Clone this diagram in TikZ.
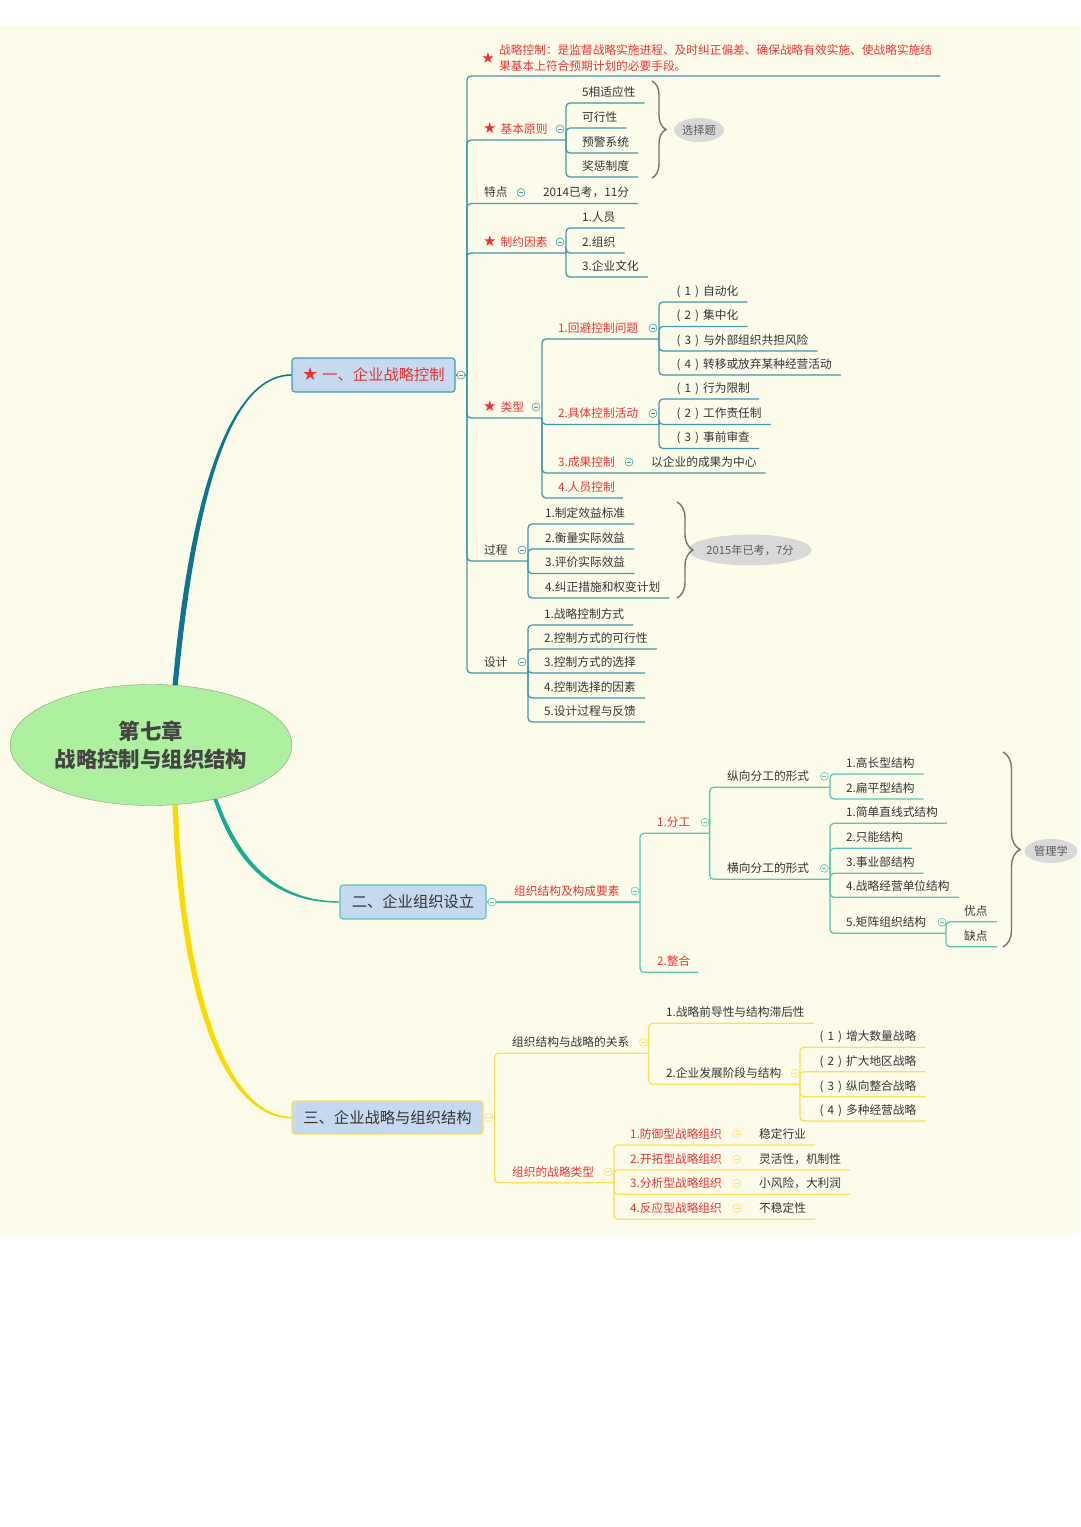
\documentclass[tikz,border=0pt]{standalone}
\usepackage{fontspec}
\setmainfont{Noto Sans CJK SC}
\newfontfamily\symfont{DejaVu Sans}
\usepackage{xcolor}
\usepackage{tikz}
\usetikzlibrary{shapes.geometric,decorations.pathreplacing,calc}

\definecolor{bgyel}{RGB}{253,252,235}
\definecolor{txt}{RGB}{51,51,51}
\definecolor{hotred}{RGB}{232,52,52}
\definecolor{lineA}{RGB}{66,152,172}
\definecolor{trunkA}{RGB}{14,116,144}
\definecolor{lineB}{RGB}{88,198,180}
\definecolor{trunkB}{RGB}{26,170,150}
\definecolor{lineC}{RGB}{250,224,90}
\definecolor{trunkC}{RGB}{250,218,0}
\definecolor{boxblue}{RGB}{197,217,241}
\definecolor{rootgreen}{RGB}{174,240,160}
\definecolor{rootedge}{RGB}{130,160,120}
\definecolor{roottxt}{RGB}{68,68,68}
\definecolor{tipgrey}{RGB}{217,217,217}
\definecolor{tiptxt}{RGB}{90,90,90}
\definecolor{bracegrey}{RGB}{115,115,115}

\newcommand{\hstar}{{\symfont\fontsize{15}{15}\selectfont ★}\hspace{4pt}}
\newcommand{\bstar}{{\symfont\fontsize{18}{18}\selectfont ★}\hspace{4pt}}
\newcommand{\pnum}[1]{\hspace{1.5pt}(\hspace{4pt}#1\hspace{4pt})\hspace{4pt}}

\tikzset{
  leaf/.style={anchor=south west,inner xsep=0pt,inner ysep=4.5pt,text height=9pt,text depth=2pt,
    font=\fontsize{11.7}{14}\selectfont,text=txt},
  hot/.style={leaf,text=hotred},
  defn/.style={anchor=south west,inner xsep=0pt,inner ysep=4.5pt,align=left,
    font=\fontsize{11.7}{16}\selectfont,text=hotred},
  fold/.style={circle,draw,fill=bgyel,line width=0.6pt,minimum size=8pt,inner sep=0pt,
    path picture={\draw[line width=0.5pt] ([xshift=-2pt]path picture bounding box.center)
      -- ([xshift=2pt]path picture bounding box.center);}},
  la/.style={draw=lineA,line width=1.3pt,rounded corners=4pt},
  lb/.style={draw=lineB,line width=1.3pt,rounded corners=4pt},
  lc/.style={draw=lineC,line width=1.3pt,rounded corners=4pt},
  topic/.style={rectangle,rounded corners=3pt,fill=boxblue,line width=1.1pt,minimum height=34pt,
    font=\fontsize{15.3}{18}\selectfont},
  brc/.style={decorate,decoration={brace,amplitude=14pt},draw=bracegrey,line width=1.4pt},
  tip/.style={ellipse,fill=tipgrey,inner sep=0pt,font=\fontsize{11.2}{13}\selectfont,text=tiptxt}
}

\begin{document}
\begin{tikzpicture}[x=1pt,y=-1pt]
\useasboundingbox (0,0) rectangle (1080,1527);
\fill[white] (0,0) rectangle (1080,1527);
\fill[bgyel] (0,26) rectangle (1080,1233);
%
\node (root) at (151,745) [ellipse,draw=rootedge,fill=rootgreen,minimum width=278pt,minimum height=121pt,
  align=center,font=\fontsize{21.4}{28}\selectfont\bfseries,text=roottxt] {第七章\\战略控制与组织结构};
%
\node (b1) at (373.5,375) [topic,draw=lineA,minimum width=163pt,text=hotred] {\bstar 一、企业战略控制};
\node (b2) at (413,902) [topic,draw=lineB,minimum width=146pt,text=txt] {二、企业组织设立};
\node (b3) at (387.5,1117.5) [topic,draw=lineC,minimum width=191pt,minimum height=33pt,text=txt] {三、企业战略与组织结构};
%%
\fill[trunkA] ($(root.68)+(-2.6,0)$) .. controls (193,460) and (240,374.2) .. ($(b1.west)+(0,-0.8)$)
  -- ($(b1.west)+(0,0.8)$) .. controls (240,375.8) and (199,460) .. ($(root.68)+(2.6,0)$) -- cycle;
\fill[trunkB] ($(root.-40)+(-2,0)$) .. controls (238,872) and (280,902.8) .. ($(b2.west)+(0,0.7)$)
  -- ($(b2.west)+(0,-0.7)$) .. controls (282,901.2) and (242,868) .. ($(root.-40)+(2,0)$) -- cycle;
\fill[trunkC] ($(root.-68)+(-2.6,0)$) .. controls (180,1012) and (228,1118.3) .. ($(b3.west)+(0,0.8)$)
  -- ($(b3.west)+(0,-0.8)$) .. controls (232,1116.7) and (186,1008) .. ($(root.-68)+(2.6,0)$) -- cycle;
%%
% branch 1
\coordinate (j1) at (467,375);
\node (s0) at (488,58) [inner sep=0pt,font=\fontsize{15}{15}\selectfont\symfont,text=hotred] {★};
\node (d0) at (499,76) [defn] {战略控制：是监督战略实施进程、及时纠正偏差、确保战略有效实施、使战略实施结\\果基本上符合预期计划的必要手段。};
%
\node (p11) at (483,140) [hot] {\hstar 基本原则};
\coordinate (k11) at (566,140);
\node (a111) at (582,103) [leaf] {5相适应性};
\node (a112) at (582,128) [leaf] {可行性};
\node (a113) at (582,153) [leaf] {预警系统};
\node (a114) at (582,177) [leaf] {奖惩制度};
\coordinate (r11t) at (652,81);
\coordinate (r11b) at (652,178);
\node (e11) at (699,130) [tip,minimum width=50pt,minimum height=24pt] {选择题};
%
\node (p12) at (484,203.5) [leaf] {特点};
\node (a121) at (543,203.5) [leaf] {2014已考，11分};
%
\node (p13) at (483,253) [hot] {\hstar 制约因素};
\coordinate (k13) at (566,253);
\node (a131) at (582,228) [leaf] {1.人员};
\node (a132) at (582,253) [leaf] {2.组织};
\node (a133) at (582,277) [leaf] {3.企业文化};
%
\node (p14) at (483,418) [hot] {\hstar 类型};
\coordinate (k14) at (542,418);
\node (p141) at (558,339) [hot] {1.回避控制问题};
\coordinate (k141) at (659,339);
\node (a1411) at (675,302) [leaf] {\pnum{1}自动化};
\node (a1412) at (675,326.5) [leaf] {\pnum{2}集中化};
\node (a1413) at (675,351) [leaf] {\pnum{3}与外部组织共担风险};
\node (a1414) at (675,375) [leaf] {\pnum{4}转移或放弃某种经营活动};
\node (p142) at (558,424.5) [hot] {2.具体控制活动};
\coordinate (k142) at (659,424.5);
\node (a1421) at (675,399) [leaf] {\pnum{1}行为限制};
\node (a1422) at (675,424.5) [leaf] {\pnum{2}工作责任制};
\node (a1423) at (675,448.5) [leaf] {\pnum{3}事前审查};
\node (p143) at (558,473) [hot] {3.成果控制};
\node (a1431) at (651,473) [leaf] {以企业的成果为中心};
\node (p144) at (558,498) [hot] {4.人员控制};
%
\node (p15) at (484,561) [leaf] {过程};
\coordinate (k15) at (528,561);
\node (a151) at (545,524) [leaf] {1.制定效益标准};
\node (a152) at (545,549) [leaf] {2.衡量实际效益};
\node (a153) at (545,573.5) [leaf] {3.评价实际效益};
\node (a154) at (545,598) [leaf] {4.纠正措施和权变计划};
\coordinate (r15t) at (677,502);
\coordinate (r15b) at (677,598);
\node (e15) at (750,550) [tip,minimum width=104pt,minimum height=31pt] {2015年已考，7分};
%
\node (p16) at (484,673) [leaf] {设计};
\coordinate (k16) at (528,673);
\node (a161) at (544,625) [leaf] {1.战略控制方式};
\node (a162) at (544,649) [leaf] {2.控制方式的可行性};
\node (a163) at (544,673) [leaf] {3.控制方式的选择};
\node (a164) at (544,698) [leaf] {4.控制选择的因素};
\node (a165) at (544,722) [leaf] {5.设计过程与反馈};
%%
\draw[la] (b1.east) -- (j1);
\draw[la] (j1) |- ([xshift=8pt]d0.south east);
\draw[la] (j1) |- (k11);
\draw[la] (k11) |- ([xshift=9pt]a111.south east);
\draw[la] (k11) |- ([xshift=9pt]a112.south east);
\draw[la] (k11) |- ([xshift=9pt]a113.south east);
\draw[la] (k11) |- ([xshift=9pt]a114.south east);
\draw[la] (j1) |- ([xshift=9pt]a121.south east);
\draw[la] (j1) |- (k13);
\draw[la] (k13) |- ([xshift=9pt]a131.south east);
\draw[la] (k13) |- ([xshift=9pt]a132.south east);
\draw[la] (k13) |- ([xshift=9pt]a133.south east);
\draw[la] (j1) |- (k14);
\draw[la] (k14) |- (k141);
\draw[la] (k141) |- ([xshift=9pt]a1411.south east);
\draw[la] (k141) |- ([xshift=9pt]a1412.south east);
\draw[la] (k141) |- ([xshift=9pt]a1413.south east);
\draw[la] (k141) |- ([xshift=9pt]a1414.south east);
\draw[la] (k14) |- (k142);
\draw[la] (k142) |- ([xshift=9pt]a1421.south east);
\draw[la] (k142) |- ([xshift=9pt]a1422.south east);
\draw[la] (k142) |- ([xshift=9pt]a1423.south east);
\draw[la] (k14) |- ([xshift=9pt]a1431.south east);
\draw[la] (k14) |- ([xshift=8pt]p144.south east);
\draw[la] (j1) |- (k15);
\draw[la] (k15) |- ([xshift=9pt]a151.south east);
\draw[la] (k15) |- ([xshift=9pt]a152.south east);
\draw[la] (k15) |- ([xshift=9pt]a153.south east);
\draw[la] (k15) |- ([xshift=9pt]a154.south east);
\draw[la] (j1) |- (k16);
\draw[la] (k16) |- ([xshift=9pt]a161.south east);
\draw[la] (k16) |- ([xshift=9pt]a162.south east);
\draw[la] (k16) |- ([xshift=9pt]a163.south east);
\draw[la] (k16) |- ([xshift=9pt]a164.south east);
\draw[la] (k16) |- ([xshift=9pt]a165.south east);
%
\draw[brc] (r11t) -- (r11b);
\draw[brc,decoration={amplitude=16pt}] (r15t) -- (r15b);
%
\node (f1) at (461,375) [fold,draw=lineA] {};
\node (f11) at (560,129) [fold,draw=lineA] {};
\node (f12) at (521,192.5) [fold,draw=lineA] {};
\node (f13) at (560,242) [fold,draw=lineA] {};
\node (f14) at (536,407) [fold,draw=lineA] {};
\node (f141) at (653,328) [fold,draw=lineA] {};
\node (f142) at (653,413.5) [fold,draw=lineA] {};
\node (f143) at (629,462) [fold,draw=lineA] {};
\node (f15) at (522,550) [fold,draw=lineA] {};
\node (f16) at (522,662) [fold,draw=lineA] {};
%%
% branch 2
\coordinate (k21) at (640,902);
\node (p21) at (514,902) [hot] {组织结构及构成要素};
\node (p211) at (657,833.3) [hot] {1.分工};
\coordinate (k211) at (709.6,833.3);
\node (p2111) at (727,787.3) [leaf] {纵向分工的形式};
\coordinate (k2111) at (830,787.3);
\node (a21111) at (846,774) [leaf] {1.高长型结构};
\node (a21112) at (846,799) [leaf] {2.扁平型结构};
\node (p2112) at (727,879.3) [leaf] {横向分工的形式};
\coordinate (k2112) at (830,879.3);
\node (a21121) at (846,823.3) [leaf] {1.简单直线式结构};
\node (a21122) at (846,848.3) [leaf] {2.只能结构};
\node (a21123) at (846,873.3) [leaf] {3.事业部结构};
\node (a21124) at (846,897.3) [leaf] {4.战略经营单位结构};
\node (p2113) at (846,933.3) [leaf] {5.矩阵组织结构};
\coordinate (k2113) at (946,933.3);
\node (a21131) at (964,921.7) [leaf] {优点};
\node (a21132) at (964,946.7) [leaf] {缺点};
\node (p212) at (657,972.3) [hot] {2.整合};
\coordinate (r2t) at (1003,752);
\coordinate (r2b) at (1003,947);
\node (e2) at (1051,851) [tip,minimum width=53pt,minimum height=24pt] {管理学};
%%
\draw[lb] (b2.east) -- (k21);
\draw[lb] (k21) |- (k211);
\draw[lb] (k211) |- (k2111);
\draw[lb] (k2111) |- ([xshift=9pt]a21111.south east);
\draw[lb] (k2111) |- ([xshift=9pt]a21112.south east);
\draw[lb] (k211) |- (k2112);
\draw[lb] (k2112) |- ([xshift=9pt]a21121.south east);
\draw[lb] (k2112) |- ([xshift=9pt]a21122.south east);
\draw[lb] (k2112) |- ([xshift=9pt]a21123.south east);
\draw[lb] (k2112) |- ([xshift=9pt]a21124.south east);
\draw[lb] (k2112) |- (k2113);
\draw[lb] (k2113) |- ([xshift=9pt]a21131.south east);
\draw[lb] (k2113) |- ([xshift=9pt]a21132.south east);
\draw[lb] (k21) |- ([xshift=8pt]p212.south east);
%
\draw[brc,decoration={amplitude=17pt}] (r2t) -- (r2b);
%
\node (f2) at (492,902) [fold,draw=lineB] {};
\node (f21) at (635,891) [fold,draw=lineB] {};
\node (f211) at (705,822.3) [fold,draw=lineB] {};
\node (f2111) at (824.4,776.3) [fold,draw=lineB] {};
\node (f2112) at (824.4,868.3) [fold,draw=lineB] {};
\node (f2113) at (942,922.3) [fold,draw=lineB] {};
%%
% branch 3
\coordinate (j3) at (494.7,1117.5);
\node (p31) at (512,1053.3) [leaf] {组织结构与战略的关系};
\coordinate (k31) at (648.6,1053.3);
\node (a311) at (666,1023.3) [leaf] {1.战略前导性与结构滞后性};
\node (p312) at (666,1084.3) [leaf] {2.企业发展阶段与结构};
\coordinate (k312) at (800,1084.3);
\node (a3121) at (818,1047.3) [leaf] {\pnum{1}增大数量战略};
\node (a3122) at (818,1071.7) [leaf] {\pnum{2}扩大地区战略};
\node (a3123) at (818,1096.7) [leaf] {\pnum{3}纵向整合战略};
\node (a3124) at (818,1121) [leaf] {\pnum{4}多种经营战略};
\node (p32) at (512,1182.7) [hot] {组织的战略类型};
\coordinate (k32) at (614,1182.7);
\node (p321) at (630,1145) [hot] {1.防御型战略组织};
\node (a321) at (759,1145) [leaf] {稳定行业};
\node (p322) at (630,1170) [hot] {2.开拓型战略组织};
\node (a322) at (759,1170) [leaf] {灵活性，机制性};
\node (p323) at (630,1194.3) [hot] {3.分析型战略组织};
\node (a323) at (759,1194.3) [leaf] {小风险，大利润};
\node (p324) at (630,1219.3) [hot] {4.反应型战略组织};
\node (a324) at (759,1219.3) [leaf] {不稳定性};
%%
\draw[lc] (b3.east) -- (j3);
\draw[lc] (j3) |- (k31);
\draw[lc] (k31) |- ([xshift=9pt]a311.south east);
\draw[lc] (k31) |- (k312);
\draw[lc] (k312) |- ([xshift=9pt]a3121.south east);
\draw[lc] (k312) |- ([xshift=9pt]a3122.south east);
\draw[lc] (k312) |- ([xshift=9pt]a3123.south east);
\draw[lc] (k312) |- ([xshift=9pt]a3124.south east);
\draw[lc] (j3) |- (k32);
\draw[lc] (k32) |- ([xshift=9pt]a321.south east);
\draw[lc] (k32) |- ([xshift=9pt]a322.south east);
\draw[lc] (k32) |- ([xshift=9pt]a323.south east);
\draw[lc] (k32) |- ([xshift=9pt]a324.south east);
%
\node (f3) at (489,1117.5) [fold,draw=lineC] {};
\node (f31) at (643.4,1042.3) [fold,draw=lineC] {};
\node (f312) at (795,1073.3) [fold,draw=lineC] {};
\node (f32) at (608,1171.7) [fold,draw=lineC] {};
\node (f321) at (736.6,1134) [fold,draw=lineC] {};
\node (f322) at (736.6,1159) [fold,draw=lineC] {};
\node (f323) at (736.6,1183.3) [fold,draw=lineC] {};
\node (f324) at (736.6,1208.3) [fold,draw=lineC] {};
\end{tikzpicture}
\end{document}
